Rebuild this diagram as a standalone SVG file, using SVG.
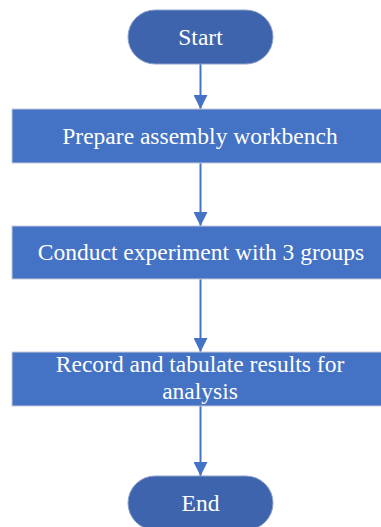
<svg xmlns="http://www.w3.org/2000/svg" width="381" height="527" viewBox="0 0 381 527">
<defs>
<style>
.term{fill:#3e64ad;stroke:#8ea3cc;stroke-width:1}
.box{fill:#4472c4;stroke:#c3cad6;stroke-width:1}
.lbl{font-family:'Liberation Serif','DejaVu Serif',serif;font-size:23.5px;fill:#ffffff;text-anchor:middle}
.conn{stroke:#4472c4;stroke-width:2;fill:none}
</style>
<marker id="ah" viewBox="0 0 14 14" refX="14" refY="7" markerWidth="14" markerHeight="14" markerUnits="userSpaceOnUse" orient="auto">
<path d="M0,0 L14,7 L0,14 Z" fill="#4472c4"/>
</marker>
</defs>
<rect width="381" height="527" fill="#ffffff"/>
<g id="connectors">
<line class="conn" x1="200.5" y1="64" x2="200.5" y2="109" marker-end="url(#ah)"/>
<line class="conn" x1="200.5" y1="163" x2="200.5" y2="226" marker-end="url(#ah)"/>
<line class="conn" x1="200.5" y1="279" x2="200.5" y2="352" marker-end="url(#ah)"/>
<line class="conn" x1="200.5" y1="406" x2="200.5" y2="476" marker-end="url(#ah)"/>
</g>
<g id="start">
<rect class="term" x="128" y="10" width="145" height="54" rx="27" ry="27"/>
<text class="lbl" font-family="Liberation Serif, serif" x="200.5" y="45">Start</text>
</g>
<g id="prepare">
<rect class="box" x="12" y="109" width="375" height="54"/>
<text class="lbl" font-family="Liberation Serif, serif" x="200" y="144">Prepare assembly workbench</text>
</g>
<g id="conduct">
<rect class="box" x="12" y="226" width="375" height="53"/>
<text class="lbl" font-family="Liberation Serif, serif" x="201" y="260">Conduct experiment with 3 groups</text>
</g>
<g id="record">
<rect class="box" x="12" y="352" width="375" height="54"/>
<text class="lbl" font-family="Liberation Serif, serif" x="200" y="372">Record and tabulate results for</text>
<text class="lbl" font-family="Liberation Serif, serif" x="200" y="399">analysis</text>
</g>
<g id="end">
<rect class="term" x="128" y="476" width="145" height="54" rx="27" ry="27"/>
<text class="lbl" font-family="Liberation Serif, serif" x="200.5" y="511">End</text>
</g>
</svg>
